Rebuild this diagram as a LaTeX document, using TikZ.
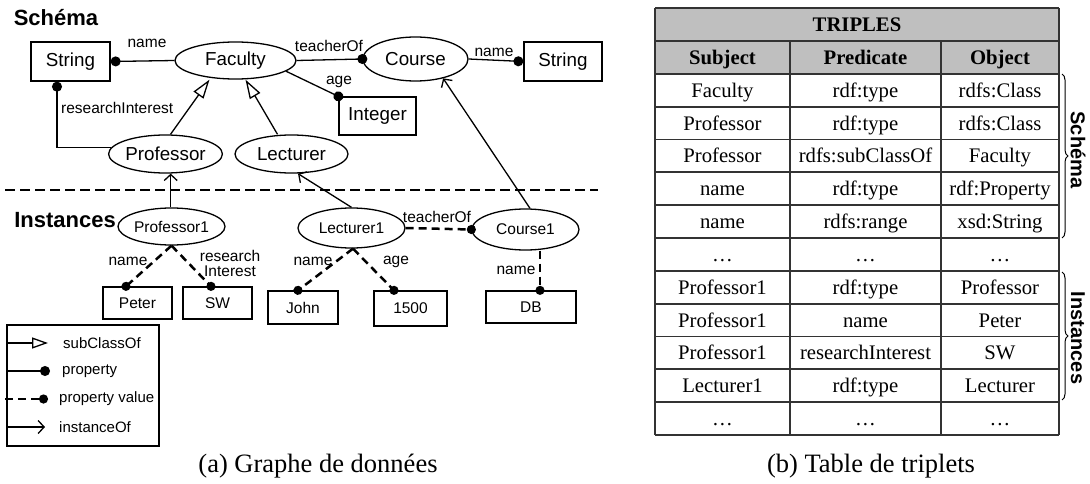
\documentclass[tikz,border=0pt]{standalone}
\usepackage{fontspec}
\setmainfont{Liberation Serif}
\newfontfamily\arialf{Liberation Sans}
\usetikzlibrary{shapes.geometric,arrows.meta,decorations.pathreplacing}
\begin{document}
\begin{tikzpicture}[x=1pt,y=-1pt,
  every node/.style={inner sep=0pt},
  cls/.style={ellipse,draw,line width=1.3pt,font=\arialf\fontsize{18.8}{20}\selectfont},
  icls/.style={ellipse,draw,line width=1.3pt,font=\arialf\fontsize{15.5}{17}\selectfont},
  tbox/.style={rectangle,draw,line width=1.3pt,font=\arialf\fontsize{18.8}{20}\selectfont},
  ibox/.style={rectangle,draw,line width=1.3pt,font=\arialf\fontsize{15.5}{17}\selectfont},
  lbl/.style={font=\arialf\fontsize{15.5}{17}\selectfont},
  legtxt/.style={font=\arialf\fontsize{15}{16}\selectfont,anchor=west},
  ttl/.style={font=\arialf\bfseries\fontsize{22}{24}\selectfont},
  edgeln/.style={line width=1.3pt},
  subcl/.style={edgeln,-{Triangle[open,length=19pt,width=12pt,fill=white]}},
  lsubcl/.style={edgeln,-{Triangle[open,length=16pt,width=11pt,fill=white]}},
  prop/.style={edgeln,-{Circle[length=10pt,width=10pt]}},
  propc/.style={prop,shorten >=-5pt},
  pval/.style={line width=2.5pt,dash pattern=on 8pt off 5pt,-{Circle[length=9pt,width=9pt]},shorten >=-4.5pt},
  instof/.style={edgeln,-{Straight Barb[length=6pt,width=13pt]}},
  cell/.style={font=\fontsize{20.7}{22}\selectfont,text height=18pt,text depth=4pt},
  hcell/.style={cell,font=\bfseries\fontsize{20.7}{22}\selectfont},
  tgrid/.style={line width=1.8pt,black!80},
  sidelbl/.style={font=\arialf\bfseries\fontsize{20}{22}\selectfont,rotate=-90},
  captxt/.style={font=\fontsize{26.5}{28}\selectfont}
]
\useasboundingbox (0,0) rectangle (1090,484);

% ---------- (a) graph ----------
\node[ttl] (tschema) at (56,18) {Schéma};
\node[tbox,minimum width=79pt,minimum height=39pt] (str1) at (70.5,61.5) {String};
\node[cls,minimum width=121pt,minimum height=37pt] (fac) at (235.5,60.5) {Faculty};
\node[cls,minimum width=105pt,minimum height=44pt] (course) at (415.5,59) {Course};
\node[tbox,minimum width=78pt,minimum height=39pt] (str2) at (563,61.5) {String};
\node[tbox,minimum width=77pt,minimum height=38pt] (integer) at (377.5,116) {Integer};
\node[cls,minimum width=105pt,minimum height=38pt] (prof) at (165.5,154) {Professor};
\node[cls,minimum width=113pt,minimum height=38pt] (lect) at (291.5,154) {Lecturer};

\coordinate (sepL) at (5,190);
\coordinate (sepR) at (598,190);
\draw[line width=2.8pt,dash pattern=on 10pt off 5pt] (sepL) -- (sepR);

\node[ttl] (tinst) at (65,220) {Instances};
\node[icls,minimum width=107pt,minimum height=37pt] (prof1) at (171.5,226.5) {Professor1};
\node[icls,minimum width=107pt,minimum height=40pt] (lect1) at (351.5,228) {Lecturer1};
\node[icls,minimum width=107pt,minimum height=41pt] (course1) at (525.5,229.5) {Course1};
\node[ibox,minimum width=69pt,minimum height=32pt] (peter) at (137.5,303) {Peter};
\node[ibox,minimum width=69pt,minimum height=32pt] (sw) at (217.5,303) {SW};
\node[ibox,minimum width=70pt,minimum height=33pt] (john) at (303,307.5) {John};
\node[ibox,minimum width=73pt,minimum height=35pt] (v1500) at (410.5,308.5) {1500};
\node[ibox,minimum width=90pt,minimum height=32pt] (db) at (531,307) {DB};

% schema edges
\draw[prop] (fac.west) -- (str1.east);
\node[lbl] (lname1) at (147,43) {name};
\draw[prop] (prof.173) -| ([xshift=-13.5pt]str1.south);
\node[lbl,anchor=west] (lri) at (61,108) {researchInterest};
\draw[subcl] ([xshift=5pt]prof.north) -- ([xshift=-26pt]fac.south);
\draw[subcl] ([xshift=-14pt]lect.north) -- ([xshift=10pt]fac.south);
\draw[propc] (fac.east) -- (course.west);
\node[lbl] (lteach) at (329,46) {teacherOf};
\draw[propc] (fac.-12) -- (integer.north west);
\node[lbl] (lage1) at (339,82) {age};
\draw[prop] (course.east) -- (str2.west);
\node[lbl] (lname2) at (494,52) {name};

% instanceOf
\draw[instof] ([xshift=-0.8pt]prof1.north) -- ([xshift=5.2pt]prof.south);
\draw[instof] (lect1.north) -- ([xshift=6.5pt]lect.south);
\draw[instof] ([xshift=4.5pt]course1.north) -- (course.-35);

% instance edges
\draw[pval] (prof1.south) -- ([xshift=-11.5pt]peter.north);
\node[lbl] (lname3) at (128,261) {name};
\draw[pval] (prof1.south) -- ([xshift=-6.5pt]sw.north);
\node[lbl,align=center] (lri2) at (230,263) {research\\[-2pt]Interest};
\draw[pval] ([xshift=1.5pt]lect1.south) -- ([xshift=-5pt]john.north);
\node[lbl] (lname4) at (313,261) {name};
\draw[pval] ([xshift=1.5pt]lect1.south) -- ([xshift=-16.5pt]v1500.north);
\node[lbl] (lage2) at (396,262) {age};
\draw[pval] (lect1.east) -- (course1.west);
\node[lbl] (lteach2) at (437,217) {teacherOf};
\draw[pval] ([xshift=14.5pt]course1.south) -- ([xshift=9pt]db.north);
\node[lbl] (lname5) at (516,270) {name};

% legend
\node[draw,line width=1.3pt,minimum width=152pt,minimum height=121pt] (legend) at (83,385.5) {};
\coordinate (l1a) at (7,343); \coordinate (l1b) at (48,343);
\coordinate (l2a) at (7,371); \coordinate (l2b) at (50,371);
\coordinate (l3a) at (5,399); \coordinate (l3b) at (48,399);
\coordinate (l4a) at (7,427); \coordinate (l4b) at (45,427);
\draw[lsubcl] (l1a) -- (l1b);
\node[legtxt] (lg1) at (63,343) {subClassOf};
\draw[prop] (l2a) -- (l2b);
\node[legtxt] (lg2) at (62,371) {property};
\draw[line width=2.5pt,dash pattern=on 8pt off 5pt,-{Circle[length=9pt,width=9pt]}] (l3a) -- (l3b);
\node[legtxt] (lg3) at (59,399) {property value};
\draw[instof] (l4a) -- (l4b);
\node[legtxt] (lg4) at (59,427) {instanceOf};

\node[captxt] (capa) at (318,466) {(a) Graphe de données};

% ---------- (b) table ----------
\fill[gray!50] (655,8.3) rectangle (1059,74);
\foreach \i in {0,...,13} {
  \draw[tgrid] (655,{8.3+32.82*\i}) -- (1059,{8.3+32.82*\i});
}
\draw[tgrid] (655,8.3) -- (655,435);
\draw[tgrid] (1059,8.3) -- (1059,435);
\draw[tgrid] (790,41.1) -- (790,435);
\draw[tgrid] (941,41.1) -- (941,435);

\node[hcell] (thead) at (857,24.7) {TRIPLES};
\node[hcell] (h1) at (722.5,57.5) {Subject};
\node[hcell] (h2) at (865.5,57.5) {Predicate};
\node[hcell] (h3) at (1000,57.5) {Object};
\foreach \r/\a/\b/\c in {
  2/Faculty/rdf:type/rdfs:Class,
  3/Professor/rdf:type/rdfs:Class,
  4/Professor/rdfs:subClassOf/Faculty,
  5/name/rdf:type/rdf:Property,
  6/name/rdfs:range/xsd:String,
  7/\dots/\dots/\dots,
  8/Professor1/rdf:type/Professor,
  9/Professor1/name/Peter,
  10/Professor1/researchInterest/SW,
  11/Lecturer1/rdf:type/Lecturer,
  12/\dots/\dots/\dots} {
  \node[cell] (s\r) at (722.5,{8.3+32.82*\r+16.41}) {\a};
  \node[cell] (p\r) at (865.5,{8.3+32.82*\r+16.41}) {\b};
  \node[cell] (o\r) at (1000,{8.3+32.82*\r+16.41}) {\c};
}

\coordinate (b1t) at (1062,74);
\coordinate (b1b) at (1062,238);
\coordinate (b2t) at (1062,272);
\coordinate (b2b) at (1062,400);
\draw[line width=1pt,decorate,decoration={brace,amplitude=6pt}] (b1t) -- (b1b);
\draw[line width=1pt,decorate,decoration={brace,amplitude=6pt}] (b2t) -- (b2b);
\node[sidelbl] (sschema) at (1078,150) {Schéma};
\node[sidelbl] (sinst) at (1078,338) {Instances};

\node[captxt] (capb) at (871,466) {(b) Table de triplets};
\end{tikzpicture}
\end{document}
